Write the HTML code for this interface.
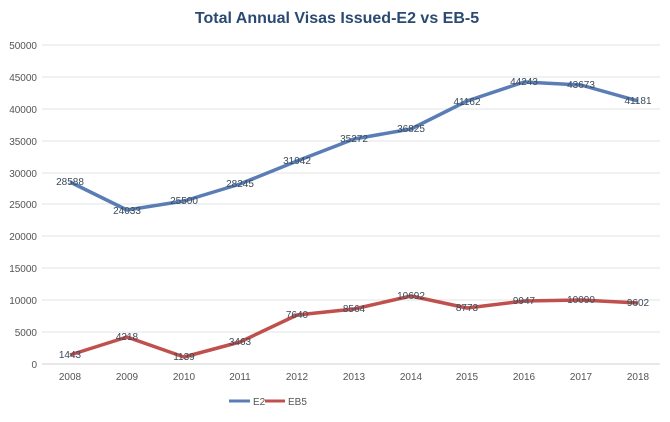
<!DOCTYPE html>
<html><head><style>body{margin:0;background:#fff}</style></head><body>
<svg width="670" height="417" xmlns="http://www.w3.org/2000/svg" font-family="Liberation Sans, sans-serif">
<rect width="670" height="417" fill="#fff"/>
<text x="337" y="23" text-anchor="middle" font-size="16" font-weight="bold" fill="#2a4a72">Total Annual Visas Issued-E2 vs EB-5</text>
<g stroke="#e3e3e3" stroke-width="1">
<line x1="42" x2="660" y1="45" y2="45"/><line x1="42" x2="660" y1="77" y2="77"/><line x1="42" x2="660" y1="109" y2="109"/><line x1="42" x2="660" y1="141" y2="141"/><line x1="42" x2="660" y1="173" y2="173"/><line x1="42" x2="660" y1="204" y2="204"/><line x1="42" x2="660" y1="236" y2="236"/><line x1="42" x2="660" y1="268" y2="268"/><line x1="42" x2="660" y1="300" y2="300"/><line x1="42" x2="660" y1="332" y2="332"/><line x1="42" x2="660" y1="364" y2="364" stroke="#d0d0d0"/>
</g>
<g font-size="10" fill="#555" text-anchor="end">
<text x="37" y="49">50000</text><text x="37" y="81">45000</text><text x="37" y="113">40000</text><text x="37" y="145">35000</text><text x="37" y="177">30000</text><text x="37" y="208">25000</text><text x="37" y="240">20000</text><text x="37" y="272">15000</text><text x="37" y="304">10000</text><text x="37" y="336">5000</text><text x="37" y="368">0</text>
</g>
<g font-size="10" fill="#555" text-anchor="middle">
<text x="70" y="380">2008</text><text x="127" y="380">2009</text><text x="184" y="380">2010</text><text x="240" y="380">2011</text><text x="297" y="380">2012</text><text x="354" y="380">2013</text><text x="411" y="380">2014</text><text x="467" y="380">2015</text><text x="524" y="380">2016</text><text x="581" y="380">2017</text><text x="638" y="380">2018</text>
</g>
<polyline fill="none" stroke="#5a7db5" stroke-width="3.5" stroke-linejoin="round" points="70,182 127,210 184,201 240,184 297,161 354,139 411,129 467,101 524,82 581,85 638,101"/>
<polyline fill="none" stroke="#c0504d" stroke-width="3.5" stroke-linejoin="round" points="70,355 127,337 184,357 240,342 297,315 354,309 411,296 467,308 524,301 581,300 638,303"/>
<g font-size="10" fill="#3a4a5a" text-anchor="middle">
<text x="70" y="185">28588</text><text x="127" y="214">24033</text><text x="184" y="204">25500</text><text x="240" y="187">28245</text><text x="297" y="164">31942</text><text x="354" y="142">35272</text><text x="411" y="132">36825</text><text x="467" y="105">41162</text><text x="524" y="85">44243</text><text x="581" y="88">43673</text><text x="638" y="104">41181</text>
<text x="70" y="358">1443</text><text x="127" y="340">4218</text><text x="184" y="360">1139</text><text x="240" y="345">3463</text><text x="297" y="318">7640</text><text x="354" y="312">8564</text><text x="411" y="299">10692</text><text x="467" y="311">8773</text><text x="524" y="304">9947</text><text x="581" y="303">10090</text><text x="638" y="306">9602</text>
</g>
<line x1="229" x2="250" y1="401" y2="401" stroke="#5a7db5" stroke-width="3"/>
<text x="253" y="405" font-size="10" fill="#555">E2</text>
<line x1="265" x2="285" y1="401" y2="401" stroke="#c0504d" stroke-width="3"/>
<text x="288" y="405" font-size="10" fill="#555">EB5</text>
</svg>
</body></html>
